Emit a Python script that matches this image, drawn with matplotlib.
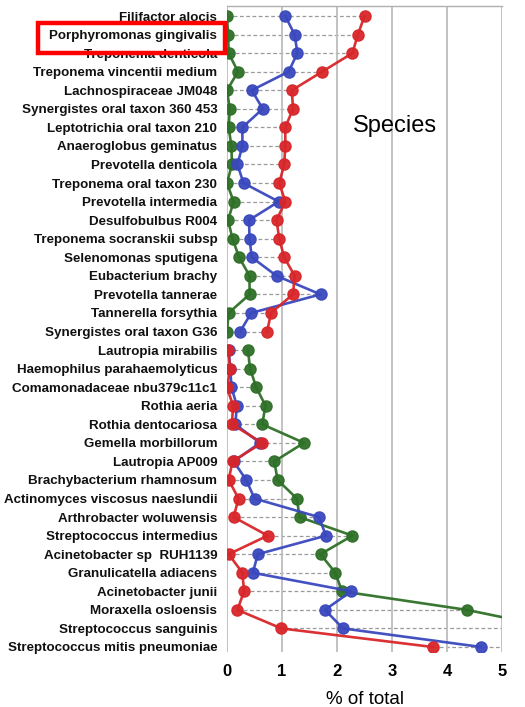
import numpy as np
import matplotlib
matplotlib.use("Agg")
import matplotlib.pyplot as plt
from matplotlib.patches import Rectangle

species = [
    "Filifactor alocis", "Porphyromonas gingivalis", "Treponema denticola",
    "Treponema vincentii medium", "Lachnospiraceae JM048",
    "Synergistes oral taxon 360 453", "Leptotrichia oral taxon 210",
    "Anaeroglobus geminatus", "Prevotella denticola", "Treponema oral taxon 230",
    "Prevotella intermedia", "Desulfobulbus R004", "Treponema socranskii subsp",
    "Selenomonas sputigena", "Eubacterium brachy", "Prevotella tannerae",
    "Tannerella forsythia", "Synergistes oral taxon G36",
    "Lautropia mirabilis", "Haemophilus parahaemolyticus",
    "Comamonadaceae nbu379c11c1", "Rothia aeria", "Rothia dentocariosa",
    "Gemella morbillorum", "Lautropia AP009", "Brachybacterium rhamnosum",
    "Actinomyces viscosus naeslundii", "Arthrobacter woluwensis",
    "Streptococcus intermedius", "Acinetobacter sp  RUH1139",
    "Granulicatella adiacens", "Acinetobacter junii", "Moraxella osloensis",
    "Streptococcus sanguinis", "Streptococcus mitis pneumoniae",
]

green = [0.0, 0.02, 0.03, 0.20, 0.0, 0.05, 0.03, 0.08, 0.09, 0.0,
         0.12, 0.02, 0.10, 0.22, 0.41, 0.41, 0.03, 0.0,
         0.38, 0.42, 0.53, 0.70, 0.64, 1.40, 0.86, 0.92, 1.27, 1.32,
         2.28, 1.70, 1.97, 2.09, 4.36, 6.0, 6.5]
blue = [1.06, 1.23, 1.28, 1.12, 0.45, 0.65, 0.28, 0.28, 0.19, 0.30,
        0.94, 0.40, 0.41, 0.45, 0.90, 1.70, 0.44, 0.24,
        0.03, 0.06, 0.08, 0.18, 0.15, 0.60, 0.12, 0.35, 0.50, 1.67,
        1.80, 0.56, 0.47, 2.26, 1.78, 2.11, 4.62]
red = [2.50, 2.38, 2.28, 1.73, 1.18, 1.20, 1.06, 1.06, 1.04, 0.95,
       1.06, 0.90, 0.95, 1.04, 1.23, 1.20, 0.80, 0.73,
       0.02, 0.06, 0.0, 0.11, 0.09, 0.64, 0.10, 0.03, 0.21, 0.12,
       0.74, 0.03, 0.28, 0.31, 0.19, 0.99, 3.74]

n_top = 18  # periodontitis-associated group, drawn as a separate line block

W, H = 525, 707
fig = plt.figure(figsize=(W / 100, H / 100), dpi=100)
ax = fig.add_axes([227 / W, 1 - 652 / H, (502 - 227) / W, (652 - 6) / H])

y = np.arange(len(species))
G = np.array(green); B = np.array(blue); R = np.array(red)
allv = np.vstack([G, B, R])
ax.hlines(y, allv.min(axis=0), allv.max(axis=0), colors="#9a9a9a",
          linestyles=(0, (3, 2)), linewidth=0.9, zorder=1)

cols = {"g": "#2e7028", "b": "#3a48bd", "r": "#d8262a"}
for vals, c in [(G, cols["g"]), (B, cols["b"]), (R, cols["r"])]:
    for sl in (slice(0, n_top), slice(n_top, len(species))):
        ax.plot(vals[sl], y[sl], "-o", color=c, lw=1.9, ms=8,
                mec=c, mew=1.0, alpha=0.95, zorder=3)

ax.set_xlim(0, 5)
ax.set_ylim(34.27, -0.54)
ax.set_xticks([0, 1, 2, 3, 4, 5])
ax.set_xticklabels(["0", "1", "2", "3", "4", "5"], fontsize=12,
                   fontweight="bold", family="Liberation Sans")
ax.set_yticks(y)
ax.set_yticklabels(species, fontsize=9.6, fontweight="bold",
                   family="Liberation Sans", color="#111111")
ax.tick_params(axis="both", length=0)
ax.tick_params(axis="y", pad=7)
ax.tick_params(axis="x", pad=9)
ax.grid(axis="x", color="#bdbdbd", lw=1.3, zorder=0)
for s in ["left", "right", "bottom"]:
    ax.spines[s].set_visible(False)
ax.spines["top"].set_color("#b0b0b0")
ax.spines["top"].set_linewidth(1.0)
ax.set_xlabel("% of total", fontsize=13.5, family="Liberation Sans", labelpad=8)

ax.text(3.05, 5.93, "Species", fontsize=17, family="Liberation Sans",
        ha="center", va="center")

fig.patches.append(Rectangle((38 / W, 1 - 53 / H), (225 - 38) / W, (53 - 23) / H,
                             transform=fig.transFigure, fill=False,
                             edgecolor="#ff0000", linewidth=3.2))

fig.savefig("out.png", dpi=100)
